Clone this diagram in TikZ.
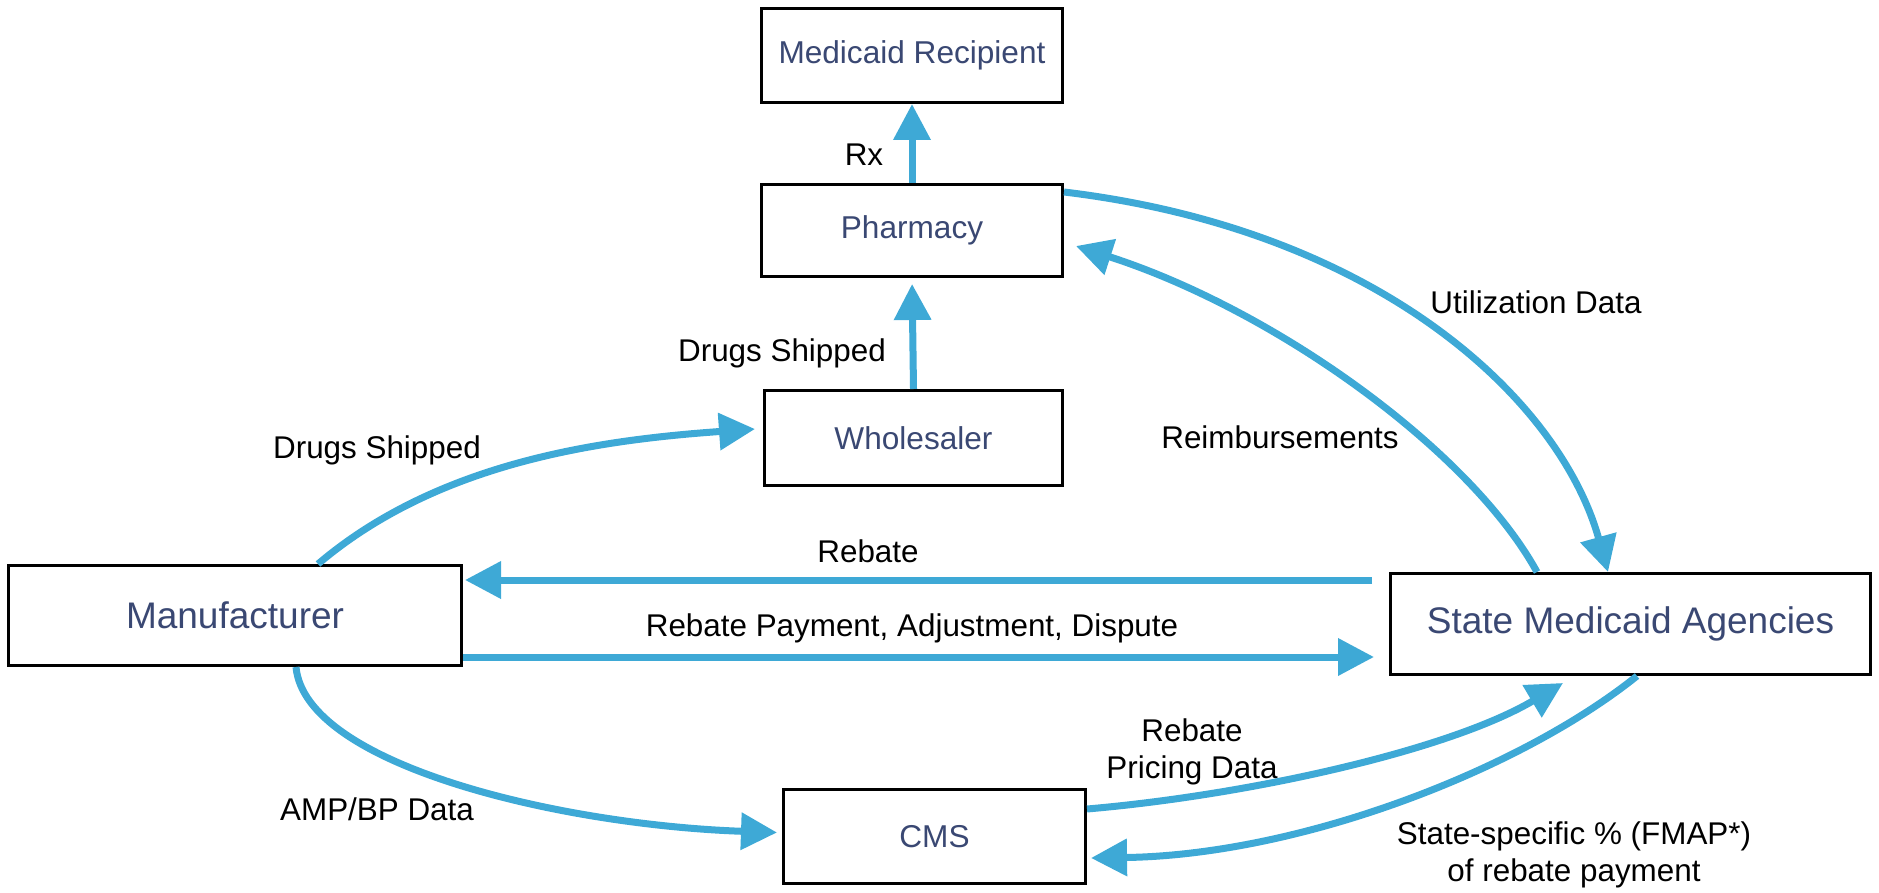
\documentclass[tikz,border=0pt]{standalone}
\usepackage{fontspec}
\setmainfont{Liberation Sans}
\usetikzlibrary{arrows.meta}
\definecolor{flow}{RGB}{62,169,214}
\definecolor{boxtext}{RGB}{58,72,115}
\begin{document}
\begin{tikzpicture}[x=0.5pt,y=-0.5pt,
  entity/.style={draw=black,line width=1.5pt,fill=white,inner sep=0pt,text=boxtext,
    font=\fontsize{15.8}{19}\selectfont},
  bigentity/.style={entity,font=\fontsize{18.5}{22}\selectfont},
  flowline/.style={draw=flow,line width=3.5pt,-{Triangle[length=18pt,width=18pt]}},
  lbl/.style={font=\fontsize{15.7}{18.5}\selectfont,text=black,inner sep=0pt}]
\useasboundingbox (0,0) rectangle (1879,893);

% participants
\node[entity,minimum width=150.5pt,minimum height=47pt] (rec) at (912,55.5) {Medicaid Recipient};
\node[entity,minimum width=150.5pt,minimum height=46pt] (pha) at (912,230.5) {Pharmacy};
\node[entity,minimum width=149pt,minimum height=47.5pt] (who) at (913.5,438) {Wholesaler};
\node[bigentity,minimum width=226.5pt,minimum height=50pt] (man) at (235,615.5) {Manufacturer};
\node[bigentity,minimum width=240pt,minimum height=50.5pt] (sma) at (1630.5,624) {State Medicaid Agencies};
\node[entity,minimum width=151pt,minimum height=47pt] (cms) at (934.5,836.5) {CMS};

% flows
\draw[flowline] (pha.north) -- (rec.south);
\draw[flowline,shorten >=3pt] (who.north) -- (pha.south);
\draw[flowline] ([xshift=41.5pt]man.north) .. controls (438,462) and (600,440) .. ([xshift=-4pt,yshift=4.5pt]who.west);
\draw[flowline,shorten >=1pt] ([xshift=-8.5pt,yshift=22pt]sma.west) coordinate (rb) -- (rb -| man.east);
\draw[flowline,shorten >=7.5pt] ([yshift=-20.75pt]man.east) coordinate (rp) -- (rp -| sma.west);
\draw[flowline] ([xshift=30.5pt]man.south) .. controls (305,765) and (560,825) .. ([xshift=-2.5pt,yshift=2pt]cms.west);
\draw[flowline] ([yshift=13.75pt]cms.east) .. controls (1250,795) and (1450,750) .. ([xshift=-33.75pt,yshift=-3.5pt]sma.south);
\draw[flowline] ([xshift=3.25pt]sma.south) .. controls (1520,770) and (1300,855) .. ([xshift=2pt,yshift=-10.75pt]cms.east);
\draw[flowline] ([yshift=19.25pt]pha.east) .. controls (1380,230) and (1560,400) .. ([xshift=-11.25pt]sma.north);
\draw[flowline] ([xshift=-46.75pt]sma.north) .. controls (1470,450) and (1275,310) .. ([xshift=6pt,yshift=-7.75pt]pha.east);

% flow labels
\node[lbl] (lrx) at (864,155) {Rx};
\node[lbl] (lds1) at (782,353) {Drugs Shipped};
\node[lbl] (lds2) at (377,450) {Drugs Shipped};
\node[lbl] (lutil) at (1536,302) {Utilization Data};
\node[lbl] (lreim) at (1280,437) {Reimbursements};
\node[lbl] (lreb) at (868,551) {Rebate};
\node[lbl] (lpay) at (912,628) {Rebate Payment, Adjustment, Dispute};
\node[lbl] (lamp) at (377,809) {AMP/BP Data};
\node[lbl,align=center] (lprice) at (1192,752) {Rebate\\Pricing Data};
\node[lbl,align=center] (lfmap) at (1574,855) {State-specific \% (FMAP*)\\of rebate payment};
\end{tikzpicture}
\end{document}
